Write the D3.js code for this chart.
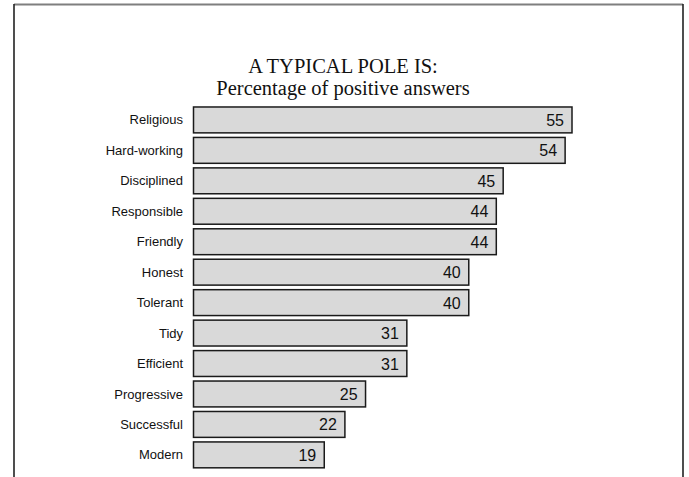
<!DOCTYPE html>
<html>
<head>
<meta charset="utf-8">
<script src="https://cdn.jsdelivr.net/npm/d3@7"></script>
<style>
html,body{margin:0;padding:0;background:#fff;}
svg{display:block;}
</style>
</head>
<body>
<script>
const categories = ["Religious","Hard-working","Disciplined","Responsible","Friendly","Honest","Tolerant","Tidy","Efficient","Progressive","Successful","Modern"];
const values = [55,54,45,44,44,40,40,31,31,25,22,19];
const titleLines = ["A TYPICAL POLE IS:","Percentage of positive answers"];

const W = 689, H = 477;
const svg = d3.select("body").append("svg").attr("width", W).attr("height", H);

// frame
svg.append("line").attr("x1",14).attr("x2",683).attr("y1",4.5).attr("y2",4.5).attr("stroke","#7f7f7f").attr("stroke-width",2);
svg.append("line").attr("x1",14).attr("x2",14).attr("y1",4).attr("y2",H+2).attr("stroke","#222").attr("stroke-width",1.6);
svg.append("line").attr("x1",683).attr("x2",683).attr("y1",4).attr("y2",H+2).attr("stroke","#222").attr("stroke-width",1.6);

// title
svg.selectAll("text.title").data(titleLines).enter().append("text")
  .attr("class","title")
  .attr("x", 343).attr("y", (d,i)=> 72.5 + i*22.5)
  .attr("text-anchor","middle")
  .attr("font-family","'Liberation Serif','Times New Roman',serif")
  .attr("font-size", 20.5)
  .attr("fill","#111")
  .text(d=>d);

const x = d3.scaleLinear().domain([0,55]).range([193.5,572]);
const y = d3.scaleBand().domain(categories).range([104.7,470.1]).paddingInner(0.15).paddingOuter(0.075);

const g = svg.append("g");
g.selectAll("rect").data(values).enter().append("rect")
  .attr("x", x(0)).attr("y", (d,i)=> y(categories[i]))
  .attr("width", d=> x(d)-x(0)).attr("height", y.bandwidth())
  .attr("fill","#d9d9d9").attr("stroke","#1a1a1a").attr("stroke-width",1.5);

g.selectAll("text.val").data(values).enter().append("text")
  .attr("class","val")
  .attr("x", d=> x(d)-8).attr("y", (d,i)=> y(categories[i]) + y.bandwidth()/2 + 6)
  .attr("text-anchor","end")
  .attr("font-family","'Liberation Sans',Arial,sans-serif")
  .attr("font-size",16).attr("fill","#111")
  .text(d=>d);

// category axis labels
const axis = d3.axisLeft(y).tickSize(0).tickPadding(0);
const ag = svg.append("g").attr("transform",`translate(183,0)`).call(axis);
ag.select(".domain").remove();
ag.selectAll("text").attr("font-family","'Liberation Sans',Arial,sans-serif").attr("font-size",13).attr("fill","#111").attr("dy","0.35em");
</script>
</body>
</html>
